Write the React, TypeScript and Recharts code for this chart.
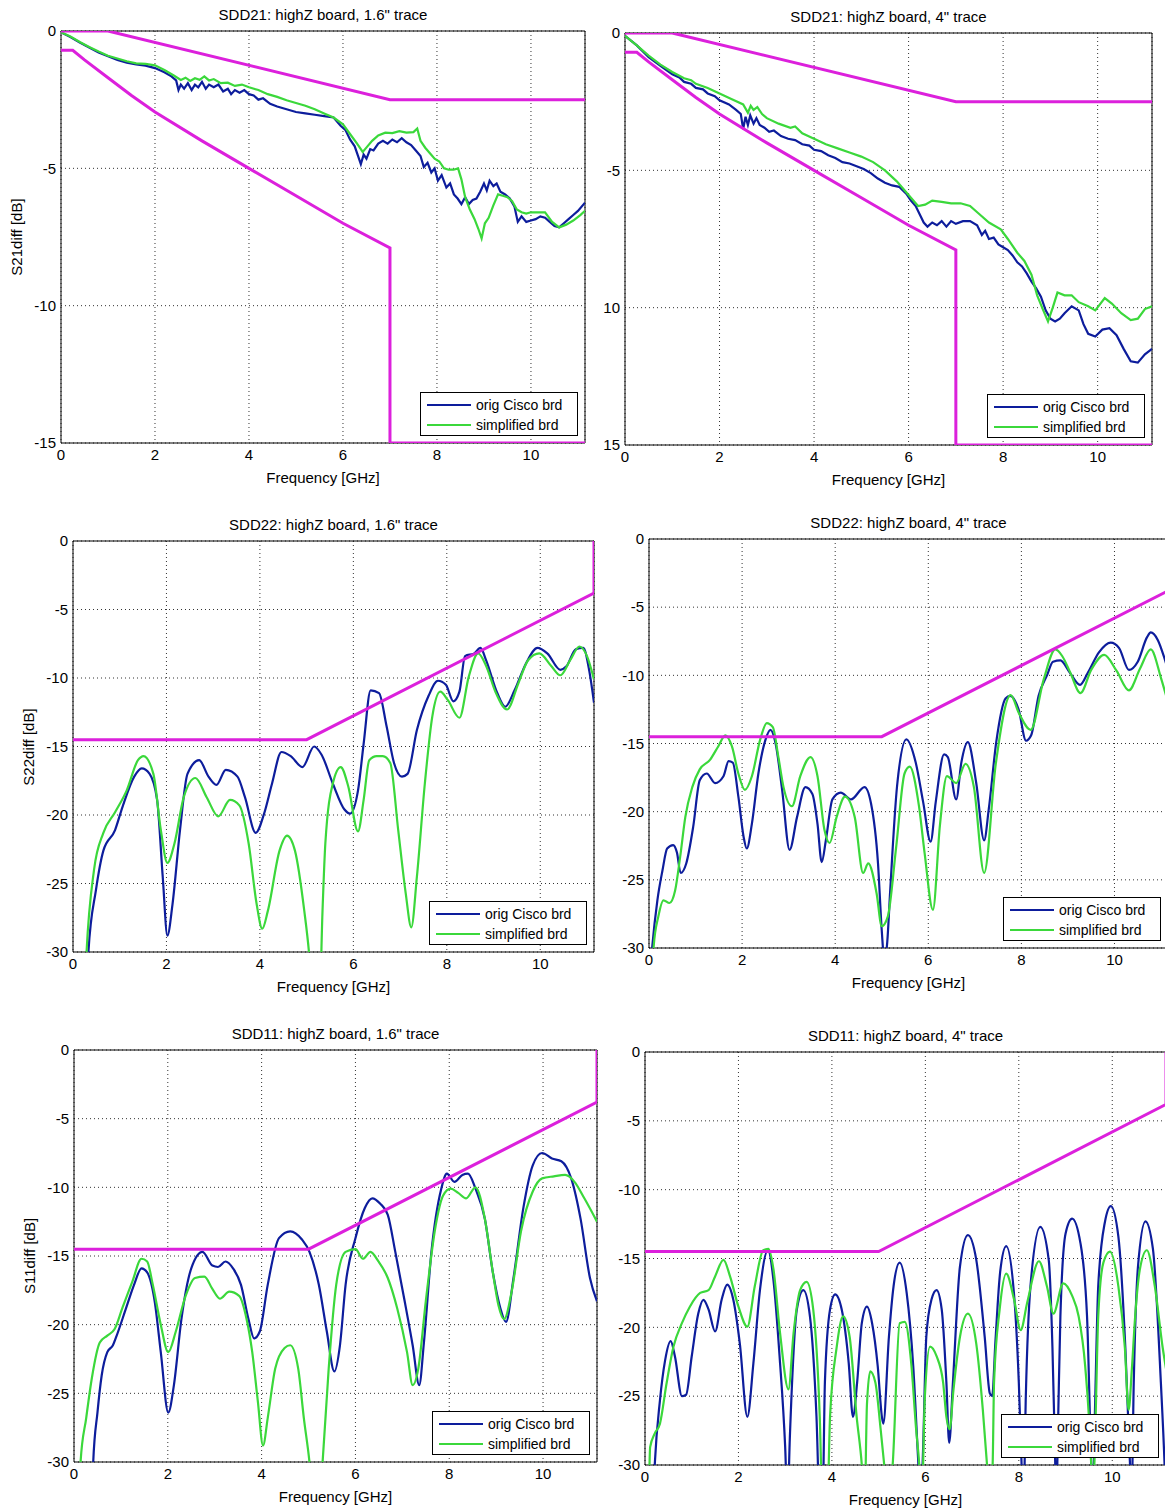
import React from "react";
import { LineChart, Line, XAxis, YAxis, CartesianGrid, ReferenceArea } from "recharts";

type Pt = [number, number];

const F_MAX = 11.15;
const freqTicks = [0, 2, 4, 6, 8, 10];
const s21Ticks = [0, -5, -10, -15];
const rlTicks = [0, -5, -10, -15, -20, -25, -30];
// the top-right panel was cropped on the left, so its two lowest labels lost the minus sign
const s21CroppedLabels: Record<number, string> = { 0: "0", [-5]: "-5", [-10]: "10", [-15]: "15" };

const legendNames = ["orig Cisco brd", "simplified brd"];

// limit lines
const s21Upper: Pt[] = [[0, 0], [1, 0], [7, -2.5], [11.15, -2.5]];
const s21Lower: Pt[] = [
  [0, -0.7], [0.25, -0.7], [0.5, -1.05], [1, -1.7], [1.5, -2.35], [2, -2.95], [3, -4.0],
  [4, -5.0], [5, -6.0], [6, -7.0], [7, -7.9], [7, -15], [11.15, -15],
];
const rlMask: Pt[] = [[0, -14.5], [5, -14.5], [11.15, -3.8], [11.15, 0]];

// SDD21, 1.6" trace
const s21ShortOrig: Pt[] = [
  [0, -0.05], [0.2, -0.22], [0.4, -0.42], [0.6, -0.6], [0.8, -0.78], [1.0, -0.92], [1.2, -1.05], [1.4, -1.15],
  [1.6, -1.22], [1.8, -1.26], [2.0, -1.35], [2.2, -1.5], [2.35, -1.65], [2.45, -1.8], [2.5, -2.15], [2.55, -1.95],
  [2.62, -2.1], [2.7, -1.9], [2.78, -2.15], [2.85, -1.95], [2.92, -2.05], [3.0, -1.85], [3.08, -2.1], [3.15, -1.95],
  [3.25, -2.05], [3.35, -1.95], [3.45, -2.2], [3.55, -2.1], [3.62, -2.3], [3.7, -2.15], [3.8, -2.25], [3.9, -2.15],
  [4.0, -2.3], [4.1, -2.35], [4.2, -2.5], [4.3, -2.45], [4.45, -2.65], [4.6, -2.75], [4.8, -2.85], [5.0, -2.95],
  [5.2, -3.0], [5.4, -3.05], [5.6, -3.1], [5.8, -3.15], [5.95, -3.45], [6.05, -3.6], [6.15, -3.95], [6.25, -4.2],
  [6.32, -4.55], [6.38, -4.85], [6.44, -4.5], [6.5, -4.65], [6.58, -4.3], [6.65, -4.35], [6.75, -4.1], [6.85, -4.0],
  [6.95, -4.1], [7.05, -3.95], [7.15, -4.05], [7.25, -3.9], [7.35, -4.05], [7.45, -4.15], [7.55, -4.35], [7.65, -4.55],
  [7.72, -4.95], [7.8, -4.8], [7.88, -5.15], [7.95, -5.0], [8.02, -5.45], [8.1, -5.25], [8.2, -5.7], [8.28, -5.55],
  [8.36, -5.95], [8.44, -6.1], [8.52, -6.3], [8.6, -6.05], [8.68, -6.3], [8.76, -6.15], [8.84, -6.1], [8.92, -5.85],
  [9.0, -5.55], [9.06, -5.8], [9.12, -5.45], [9.2, -5.65], [9.27, -5.55], [9.35, -5.85], [9.45, -5.95], [9.55, -6.1],
  [9.65, -6.4], [9.72, -6.95], [9.8, -6.75], [9.9, -6.95], [10.0, -6.9], [10.1, -6.85], [10.2, -6.75], [10.3, -6.8],
  [10.4, -6.95], [10.5, -7.1], [10.6, -7.15], [10.7, -7.0], [10.8, -6.85], [10.9, -6.7], [11.0, -6.55], [11.15, -6.25],
];
const s21ShortSimp: Pt[] = [
  [0, -0.05], [0.2, -0.2], [0.4, -0.4], [0.6, -0.58], [0.8, -0.75], [1.0, -0.9], [1.2, -1.0], [1.4, -1.1],
  [1.6, -1.18], [1.8, -1.2], [2.0, -1.25], [2.2, -1.42], [2.4, -1.62], [2.55, -1.78], [2.65, -1.7], [2.75, -1.82],
  [2.85, -1.72], [2.95, -1.78], [3.05, -1.65], [3.15, -1.8], [3.25, -1.75], [3.4, -1.9], [3.55, -1.88], [3.7, -2.0],
  [3.85, -1.95], [4.0, -2.05], [4.2, -2.15], [4.4, -2.3], [4.6, -2.4], [4.8, -2.52], [5.0, -2.62], [5.2, -2.72],
  [5.4, -2.85], [5.6, -3.0], [5.8, -3.15], [6.0, -3.4], [6.15, -3.75], [6.3, -4.1], [6.42, -4.4], [6.52, -4.2],
  [6.62, -4.0], [6.75, -3.8], [6.9, -3.7], [7.05, -3.72], [7.2, -3.65], [7.35, -3.7], [7.5, -3.68], [7.58, -3.55],
  [7.65, -4.0], [7.75, -4.25], [7.85, -4.45], [7.95, -4.65], [8.05, -4.75], [8.15, -5.0], [8.25, -5.05], [8.35, -5.05],
  [8.45, -5.0], [8.52, -5.4], [8.6, -6.05], [8.7, -6.5], [8.8, -6.85], [8.88, -7.2], [8.95, -7.55], [9.02, -7.0],
  [9.1, -6.8], [9.2, -6.35], [9.3, -5.95], [9.4, -6.0], [9.5, -6.05], [9.6, -6.2], [9.7, -6.5], [9.8, -6.6],
  [9.9, -6.65], [10.0, -6.6], [10.15, -6.6], [10.3, -6.6], [10.45, -6.95], [10.6, -7.15], [10.75, -7.05], [10.9, -6.9],
  [11.05, -6.7], [11.15, -6.55],
];

// SDD21, 4" trace
const s21LongOrig: Pt[] = [
  [0, -0.1], [0.25, -0.45], [0.5, -0.88], [0.75, -1.2], [1.0, -1.5], [1.15, -1.62], [1.25, -1.78], [1.4, -1.85],
  [1.5, -2.0], [1.65, -2.05], [1.75, -2.2], [1.9, -2.3], [2.0, -2.45], [2.2, -2.6], [2.35, -2.8], [2.45, -2.95],
  [2.5, -3.5], [2.55, -3.05], [2.6, -3.35], [2.65, -3.0], [2.72, -3.3], [2.78, -3.1], [2.85, -3.35], [2.95, -3.45],
  [3.05, -3.6], [3.15, -3.55], [3.3, -3.75], [3.45, -3.85], [3.6, -3.9], [3.75, -4.05], [3.9, -4.1], [4.0, -4.25],
  [4.15, -4.3], [4.3, -4.45], [4.45, -4.55], [4.6, -4.7], [4.75, -4.75], [4.9, -4.85], [5.05, -4.95], [5.2, -5.1],
  [5.35, -5.3], [5.5, -5.45], [5.65, -5.55], [5.8, -5.6], [5.95, -5.85], [6.05, -6.1], [6.15, -6.3], [6.25, -6.65],
  [6.32, -6.9], [6.4, -7.05], [6.5, -6.9], [6.6, -7.0], [6.7, -6.85], [6.8, -7.05], [6.9, -6.85], [7.0, -6.95],
  [7.15, -6.85], [7.3, -6.85], [7.45, -7.0], [7.55, -7.35], [7.62, -7.2], [7.7, -7.5], [7.8, -7.45], [7.9, -7.7],
  [8.0, -7.8], [8.1, -7.9], [8.2, -8.1], [8.3, -8.35], [8.4, -8.5], [8.5, -8.75], [8.6, -9.05], [8.7, -9.3],
  [8.8, -9.6], [8.9, -10.1], [9.0, -10.4], [9.1, -10.5], [9.2, -10.4], [9.3, -10.2], [9.45, -9.95], [9.6, -10.1],
  [9.7, -10.6], [9.8, -10.95], [9.95, -11.05], [10.1, -10.8], [10.25, -10.75], [10.4, -11.0], [10.55, -11.5], [10.7, -11.95],
  [10.85, -12.0], [11.0, -11.7], [11.15, -11.5],
];
const s21LongSimp: Pt[] = [
  [0, -0.1], [0.25, -0.45], [0.5, -0.82], [0.75, -1.15], [1.0, -1.42], [1.25, -1.65], [1.4, -1.72], [1.5, -1.85],
  [1.75, -2.0], [2.0, -2.2], [2.25, -2.4], [2.5, -2.6], [2.6, -2.9], [2.66, -2.65], [2.72, -2.8], [2.8, -2.7],
  [2.9, -2.95], [3.0, -3.1], [3.25, -3.3], [3.5, -3.45], [3.6, -3.4], [3.75, -3.65], [4.0, -3.85], [4.25, -4.05],
  [4.5, -4.2], [4.75, -4.35], [5.0, -4.5], [5.25, -4.7], [5.5, -5.0], [5.75, -5.4], [6.0, -5.9], [6.2, -6.3],
  [6.35, -6.25], [6.5, -6.1], [6.7, -6.15], [6.9, -6.2], [7.1, -6.2], [7.3, -6.3], [7.5, -6.6], [7.7, -6.9],
  [7.95, -7.15], [8.1, -7.5], [8.3, -8.0], [8.45, -8.3], [8.6, -8.8], [8.72, -9.55], [8.85, -10.1], [8.95, -10.5],
  [9.05, -10.0], [9.15, -9.45], [9.3, -9.55], [9.45, -9.55], [9.6, -9.8], [9.8, -9.95], [9.95, -10.1], [10.15, -9.65],
  [10.3, -9.85], [10.5, -10.2], [10.7, -10.45], [10.85, -10.4], [11.0, -10.05], [11.15, -9.95],
];

// SDD22, 1.6" trace
const s22ShortOrig: Pt[] = [
  [0.3, -33], [0.33, -30], [0.49, -25.5], [0.65, -22.6], [0.9, -21.1], [1.06, -19.4], [1.31, -17.2], [1.47, -16.6],
  [1.64, -17.0], [1.8, -18.9], [1.92, -24.5], [2.02, -28.8], [2.13, -26.5], [2.29, -21.1], [2.45, -17.0], [2.7, -16.0],
  [2.9, -17.2], [3.07, -17.8], [3.27, -16.7], [3.52, -17.2], [3.68, -18.7], [3.91, -21.3], [4.09, -19.9], [4.26, -17.7],
  [4.46, -15.4], [4.66, -15.7], [4.91, -16.5], [5.16, -15.0], [5.32, -15.6], [5.56, -17.7], [5.81, -19.6], [5.93, -19.9],
  [6.1, -18.2], [6.22, -14.8], [6.37, -10.9], [6.55, -11.1], [6.71, -13.5], [6.87, -16.2], [7.04, -17.2], [7.16, -17.0],
  [7.36, -13.8], [7.61, -11.3], [7.81, -10.2], [7.98, -10.5], [8.14, -11.7], [8.27, -11.0], [8.39, -8.4], [8.59, -8.2],
  [8.72, -7.8], [8.84, -8.7], [9.08, -11.1], [9.25, -12.1], [9.45, -10.9], [9.7, -8.9], [9.94, -7.8], [10.15, -8.2],
  [10.43, -9.4], [10.56, -9.15], [10.76, -7.9], [10.92, -7.8], [11.05, -9.5], [11.15, -11.8],
];
const s22ShortSimp: Pt[] = [
  [0.25, -33], [0.29, -30], [0.45, -24], [0.65, -21.3], [0.9, -19.8], [1.15, -18.2], [1.39, -16.0], [1.51, -15.7],
  [1.72, -17.0], [1.88, -21.1], [2.02, -23.5], [2.17, -22.1], [2.37, -18.7], [2.62, -17.3], [2.86, -18.7], [3.11, -20.1],
  [3.36, -18.9], [3.56, -19.3], [3.76, -22.1], [3.93, -26.5], [4.05, -28.3], [4.17, -27.0], [4.42, -22.6], [4.58, -21.5],
  [4.75, -22.6], [4.95, -27.0], [5.05, -30], [5.12, -33], [5.28, -33], [5.34, -27], [5.4, -22.1], [5.56, -17.7],
  [5.73, -16.5], [5.89, -17.9], [6.1, -21.2], [6.22, -18.9], [6.34, -16.0], [6.5, -15.7], [6.63, -15.7], [6.79, -16.2],
  [6.96, -21.1], [7.12, -25.7], [7.24, -28.2], [7.36, -24.5], [7.53, -17.7], [7.69, -12.8], [7.86, -11.0], [8.02, -11.6],
  [8.27, -12.9], [8.47, -9.9], [8.67, -8.2], [8.84, -9.1], [9.04, -11.0], [9.29, -12.3], [9.53, -10.4], [9.74, -8.7],
  [9.98, -8.2], [10.23, -9.1], [10.43, -9.8], [10.64, -8.7], [10.84, -7.7], [11.0, -8.4], [11.15, -10.1],
];

// SDD22, 4" trace
const s22LongOrig: Pt[] = [
  [0.0, -33], [0.07, -29.9], [0.18, -26.5], [0.29, -24.3], [0.39, -22.7], [0.52, -22.45], [0.6, -23.0], [0.68, -24.5],
  [0.8, -23.8], [0.95, -21.1], [1.09, -17.7], [1.24, -17.2], [1.42, -17.9], [1.6, -17.4], [1.71, -16.3], [1.8, -16.4],
  [1.92, -18.9], [2.03, -21.8], [2.1, -22.7], [2.21, -20.9], [2.35, -17.2], [2.5, -14.75], [2.61, -14.0], [2.72, -15.0],
  [2.86, -18.4], [3.02, -22.8], [3.18, -20.4], [3.36, -18.2], [3.51, -18.7], [3.62, -20.9], [3.71, -23.7], [3.8, -22.1],
  [3.94, -19.1], [4.12, -18.6], [4.34, -19.1], [4.63, -18.2], [4.77, -19.4], [4.92, -23.8], [5.0, -28.7], [5.06, -31],
  [5.12, -29.5], [5.18, -25.9], [5.33, -18.1], [5.53, -14.7], [5.73, -16.4], [5.89, -19.3], [6.05, -22.2], [6.16, -19.3],
  [6.34, -15.8], [6.42, -16.0], [6.6, -19.1], [6.71, -16.4], [6.85, -14.9], [7.03, -17.9], [7.2, -22.1], [7.3, -19.8],
  [7.46, -14.9], [7.66, -11.7], [7.76, -11.5], [7.94, -12.5], [8.1, -14.8], [8.21, -14.4], [8.37, -11.5], [8.55, -10.0],
  [8.68, -9.0], [8.84, -8.9], [9.04, -9.8], [9.26, -10.7], [9.43, -9.8], [9.67, -8.3], [9.92, -7.6], [10.1, -8.0],
  [10.31, -9.6], [10.5, -9.0], [10.7, -7.2], [10.78, -6.85], [10.93, -7.4], [11.07, -8.7], [11.15, -9.6],
];
const s22LongSimp: Pt[] = [
  [0.05, -33], [0.1, -29.9], [0.2, -27.7], [0.31, -26.5], [0.44, -26.7], [0.56, -25.8], [0.67, -23.3], [0.78, -20.4],
  [0.93, -18.2], [1.09, -16.9], [1.31, -16.2], [1.49, -15.2], [1.64, -14.4], [1.78, -15.2], [1.92, -17.2], [2.06, -18.4],
  [2.21, -17.4], [2.39, -14.7], [2.53, -13.5], [2.66, -13.8], [2.78, -16.0], [2.89, -18.2], [3.07, -19.6], [3.25, -17.4],
  [3.47, -16.0], [3.62, -17.4], [3.77, -21.35], [3.88, -22.3], [4.03, -20.4], [4.21, -18.9], [4.42, -20.4], [4.6, -24.5],
  [4.71, -23.8], [4.89, -26.0], [5.0, -28.4], [5.13, -27.7], [5.31, -22.6], [5.49, -17.2], [5.6, -16.7], [5.8, -19.6],
  [5.92, -23.0], [6.1, -27.2], [6.25, -21.0], [6.4, -17.4], [6.6, -17.9], [6.8, -16.5], [6.98, -18.2], [7.2, -24.5],
  [7.45, -16.5], [7.77, -11.45], [7.95, -12.8], [8.2, -14.0], [8.48, -10.3], [8.73, -8.1], [8.88, -8.6], [9.05, -9.8],
  [9.27, -11.3], [9.5, -9.6], [9.78, -8.5], [10.05, -9.7], [10.31, -11.1], [10.55, -9.5], [10.78, -8.1], [11.0, -10.2],
  [11.15, -12.0],
];

// SDD11, 1.6" trace
const s11ShortOrig: Pt[] = [
  [0.38, -33], [0.41, -30], [0.5, -26.4], [0.59, -23.7], [0.71, -22.0], [0.83, -21.5], [0.91, -20.8], [1.11, -18.8],
  [1.28, -17.1], [1.44, -15.9], [1.56, -16.2], [1.72, -18.3], [1.85, -22.0], [2.01, -26.4], [2.13, -24.4], [2.29, -19.6],
  [2.5, -15.9], [2.74, -14.7], [2.95, -15.7], [3.07, -15.8], [3.23, -15.4], [3.39, -15.9], [3.56, -17.1], [3.72, -19.6],
  [3.84, -21.0], [3.96, -20.5], [4.13, -17.1], [4.37, -13.7], [4.61, -13.2], [4.86, -13.8], [5.02, -14.7], [5.22, -17.1],
  [5.39, -20.5], [5.55, -23.4], [5.67, -21.5], [5.79, -17.1], [6.0, -13.7], [6.2, -11.5], [6.36, -10.8], [6.53, -11.2],
  [6.69, -12.0], [6.85, -14.7], [7.05, -18.3], [7.22, -21.5], [7.36, -24.4], [7.46, -21.3], [7.62, -14.7], [7.83, -10.1],
  [7.95, -9.0], [8.11, -9.6], [8.28, -9.1], [8.4, -9.0], [8.56, -10.1], [8.76, -12.3], [8.93, -16.2], [9.09, -18.8],
  [9.21, -19.8], [9.37, -16.6], [9.58, -11.5], [9.78, -8.4], [9.98, -7.5], [10.19, -7.9], [10.39, -8.1], [10.6, -9.35],
  [10.8, -12.3], [11.0, -16.6], [11.15, -18.3],
];
const s11ShortSimp: Pt[] = [
  [0.1, -33], [0.14, -30], [0.26, -26.8], [0.38, -23.9], [0.55, -21.3], [0.71, -20.8], [0.87, -20.3], [1.03, -18.8],
  [1.24, -16.9], [1.44, -15.2], [1.56, -15.4], [1.68, -17.1], [1.85, -20.0], [2.01, -22.0], [2.17, -20.5], [2.38, -17.9],
  [2.58, -16.6], [2.78, -16.5], [2.95, -17.4], [3.11, -18.1], [3.31, -17.6], [3.52, -17.9], [3.68, -19.6], [3.8, -22.0],
  [3.92, -25.6], [4.03, -28.8], [4.13, -26.8], [4.29, -23.2], [4.49, -21.7], [4.61, -21.5], [4.78, -23.2], [4.9, -26.8],
  [5.02, -30], [5.1, -33], [5.25, -33], [5.3, -30], [5.43, -23.2], [5.59, -17.1], [5.79, -14.7], [6.0, -14.5],
  [6.16, -15.2], [6.32, -14.7], [6.49, -15.4], [6.69, -16.6], [6.89, -18.8], [7.1, -22.0], [7.22, -24.4], [7.34, -23.2],
  [7.5, -18.3], [7.71, -12.8], [7.87, -10.6], [8.03, -10.1], [8.19, -10.4], [8.36, -10.8], [8.56, -10.0], [8.76, -12.3],
  [8.93, -16.2], [9.05, -18.6], [9.17, -19.6], [9.33, -17.6], [9.53, -13.2], [9.78, -10.3], [9.98, -9.35], [10.23, -9.2],
  [10.47, -9.1], [10.67, -9.6], [10.88, -10.8], [11.15, -12.5],
];

// SDD11, 4" trace
const s11LongOrig: Pt[] = [
  [0.17, -33], [0.21, -29.9], [0.32, -25.3], [0.43, -22.4], [0.55, -21.0], [0.64, -22.1], [0.79, -25.0], [0.88, -24.9],
  [1.0, -22.1], [1.14, -19.0], [1.25, -18.0], [1.36, -18.7], [1.5, -20.3], [1.64, -18.0], [1.76, -16.9], [1.89, -18.0],
  [2.03, -21.2], [2.19, -26.5], [2.32, -22.6], [2.46, -17.3], [2.63, -14.4], [2.75, -16.6], [2.88, -22.1], [3.0, -28.7],
  [3.05, -33], [3.1, -28], [3.25, -18.7], [3.39, -17.3], [3.53, -19.2], [3.67, -26.5], [3.74, -33], [3.8, -33],
  [3.85, -24.0], [3.96, -18.7], [4.07, -17.6], [4.21, -18.7], [4.36, -22.6], [4.45, -26.5], [4.54, -24.0], [4.64, -19.7],
  [4.75, -18.5], [4.86, -19.7], [4.98, -22.8], [5.07, -26.5], [5.1, -27], [5.22, -20.7], [5.32, -17.0], [5.45, -15.3],
  [5.6, -17.5], [5.74, -22.8], [5.85, -29.9], [5.9, -33], [5.95, -29], [6.02, -20.7], [6.13, -18.0], [6.24, -17.3],
  [6.35, -18.7], [6.45, -24.0], [6.51, -28.4], [6.59, -24.0], [6.74, -15.6], [6.91, -13.3], [7.09, -15.1], [7.27, -20.7],
  [7.38, -24.8], [7.43, -25.0], [7.5, -21], [7.6, -16], [7.73, -14.1], [7.9, -17.7], [8.0, -24.0], [8.06, -30],
  [8.1, -33], [8.15, -25], [8.25, -17.0], [8.46, -12.7], [8.64, -15.1], [8.72, -21.5], [8.78, -30], [8.8, -33],
  [8.84, -27], [8.89, -19.2], [9.0, -13.2], [9.14, -12.1], [9.32, -13.9], [9.46, -19.2], [9.55, -30], [9.58, -33],
  [9.63, -26], [9.7, -17.0], [9.84, -12.4], [9.97, -11.2], [10.13, -13.4], [10.28, -21.5], [10.38, -30], [10.41, -33],
  [10.46, -24], [10.55, -15.6], [10.71, -12.3], [10.87, -14.3], [11.04, -24.0], [11.12, -30], [11.15, -33],
];
const s11LongSimp: Pt[] = [
  [0.08, -33], [0.11, -28.7], [0.21, -27.7], [0.32, -27.0], [0.46, -24.1], [0.61, -21.4], [0.79, -19.7], [0.96, -18.5],
  [1.18, -17.5], [1.36, -17.3], [1.5, -16.3], [1.68, -15.1], [1.82, -16.3], [2.0, -18.5], [2.19, -19.95], [2.35, -17.0],
  [2.53, -14.4], [2.64, -14.3], [2.75, -15.8], [2.89, -20.4], [3.07, -24.5], [3.18, -20.4], [3.32, -17.3], [3.46, -16.7],
  [3.6, -18.7], [3.74, -26.5], [3.8, -33], [3.9, -33], [3.96, -26.5], [4.1, -21.5], [4.24, -19.2], [4.38, -20.7],
  [4.53, -26.5], [4.64, -30], [4.7, -33], [4.75, -25.6], [4.82, -23.2], [4.93, -24.0], [5.04, -27.3], [5.12, -30],
  [5.2, -33], [5.3, -30], [5.45, -19.7], [5.56, -19.6], [5.7, -22.7], [5.8, -27.3], [5.87, -30], [5.92, -33],
  [5.99, -25], [6.1, -21.4], [6.24, -22.1], [6.38, -24.0], [6.45, -26.5], [6.52, -27.4], [6.6, -24.6], [6.74, -20.7],
  [6.91, -19.0], [7.09, -21.2], [7.23, -26.0], [7.32, -30], [7.38, -33], [7.44, -30], [7.47, -24.0], [7.59, -18.7],
  [7.73, -16.1], [7.9, -18.0], [8.04, -20.2], [8.18, -18.2], [8.43, -15.2], [8.6, -17.0], [8.74, -19.0], [8.95, -16.8],
  [9.14, -17.7], [9.28, -19.2], [9.42, -22.8], [9.55, -30], [9.58, -33], [9.64, -27], [9.7, -19.2], [9.81, -15.3],
  [9.95, -14.5], [10.13, -17.0], [10.27, -21.5], [10.35, -26.0], [10.42, -23], [10.49, -19.2], [10.59, -15.8], [10.74, -14.4],
  [10.91, -17.0], [11.08, -21.5], [11.15, -23],
];

const BLUE = "#0d1d9c";
const GREEN = "#3bd83b";
const MAGENTA = "#dc20dc";
const FONT = "'Liberation Sans', Arial, Helvetica, sans-serif";
const FS = 15;

const YW = 60;
const MT = 10;
const MR = 10;
const XH = 30;

const rows = (pts: Pt[]) => pts.map(([f, v]) => ({ f, v }));

type Box = { x: number; y: number; w: number; h: number };

const Txt = (props: any) => (
  <div
    style={{
      position: "absolute",
      left: props.x,
      top: props.y,
      transform: `translate(-50%, -50%)${props.rotate ? " rotate(-90deg)" : ""}`,
      whiteSpace: "nowrap",
      fontFamily: FONT,
      fontSize: FS,
      color: "#000",
      lineHeight: 1,
    }}
  >
    {props.children}
  </div>
);

const LegendBox = ({ left, top }: { left: number; top: number }) => (
  <div
    style={{
      position: "absolute",
      left,
      top,
      width: 156,
      height: 42,
      border: "1px solid #000",
      background: "#fff",
      fontFamily: FONT,
      fontSize: 14,
    }}
  >
    {[BLUE, GREEN].map((c, i) => (
      <div key={i} style={{ position: "absolute", left: 6, top: 3 + i * 20, height: 18, display: "flex", alignItems: "center" }}>
        <div style={{ width: 44, height: 2, background: c, marginRight: 5 }} />
        <span>{legendNames[i]}</span>
      </div>
    ))}
  </div>
);

const Panel = (props: {
  clip: Box;
  plot: Box;
  title: string;
  yLabel?: string;
  yMin: number;
  yTicks: number[];
  yFmt?: (v: number) => string;
  curve: "linear" | "monotoneX";
  masks: Pt[][];
  orig: Pt[];
  simp: Pt[];
}) => {
  const { clip, plot } = props;
  const px = plot.x - clip.x;
  const py = plot.y - clip.y;
  return (
    <div style={{ position: "absolute", left: clip.x, top: clip.y, width: clip.w, height: clip.h, overflow: "hidden" }}>
      <div style={{ position: "absolute", left: px - YW, top: py - MT }}>
        <LineChart
          width={YW + plot.w + MR}
          height={MT + plot.h + XH}
          margin={{ top: MT, right: MR, bottom: 0, left: 0 }}
        >
          <CartesianGrid stroke="#333" strokeDasharray="1 3" />
          <XAxis
            type="number"
            dataKey="f"
            domain={[0, F_MAX]}
            ticks={freqTicks}
            allowDataOverflow
            height={XH}
            axisLine={false}
            tickLine={false}
            tickSize={4}
            tickMargin={2}
            tick={{ fill: "#000", fontSize: FS, fontFamily: FONT }}
          />
          <YAxis
            type="number"
            domain={[props.yMin, 0]}
            ticks={props.yTicks}
            tickFormatter={props.yFmt}
            allowDataOverflow
            width={YW}
            axisLine={false}
            tickLine={false}
            tickSize={3}
            tickMargin={2}
            tick={{ fill: "#000", fontSize: FS, fontFamily: FONT }}
          />
          <ReferenceArea x1={0} x2={F_MAX} y1={props.yMin} y2={0} fill="none" stroke="#000" strokeWidth={1} ifOverflow="visible" />
          <Line data={rows(props.orig)} dataKey="v" type={props.curve} stroke={BLUE} strokeWidth={2.2} dot={false} isAnimationActive={false} />
          <Line data={rows(props.simp)} dataKey="v" type={props.curve} stroke={GREEN} strokeWidth={2.2} dot={false} isAnimationActive={false} />
          {props.masks.map((m, i) => (
            <Line key={i} data={rows(m)} dataKey="v" type="linear" stroke={MAGENTA} strokeWidth={3} dot={false} isAnimationActive={false} />
          ))}
        </LineChart>
      </div>
      <Txt x={px + plot.w / 2} y={py - 17}>{props.title}</Txt>
      <Txt x={px + plot.w / 2} y={py + plot.h + 34}>Frequency [GHz]</Txt>
      {props.yLabel && (
        <Txt x={px - 45} y={py + plot.h / 2} rotate>
          {props.yLabel}
        </Txt>
      )}
      <LegendBox left={px + plot.w - 7 - 158} top={py + plot.h - 7 - 44} />
    </div>
  );
};

export default function App() {
  return (
    <div style={{ position: "absolute", left: 0, top: 0, width: 1165, height: 1510, background: "#fff", overflow: "hidden" }}>
      <Panel
        clip={{ x: 0, y: 0, w: 600, h: 495 }}
        plot={{ x: 61, y: 31, w: 524, h: 412 }}
        title={'SDD21: highZ board, 1.6" trace'}
        yLabel="S21diff [dB]"
        yMin={-15}
        yTicks={s21Ticks}
        curve="linear"
        masks={[s21Upper, s21Lower]}
        orig={s21ShortOrig}
        simp={s21ShortSimp}
      />
      <Panel
        clip={{ x: 602, y: 0, w: 563, h: 495 }}
        plot={{ x: 625, y: 33, w: 527, h: 412 }}
        title={'SDD21: highZ board, 4" trace'}
        yMin={-15}
        yTicks={s21Ticks}
        yFmt={(v: number) => s21CroppedLabels[v] ?? String(v)}
        curve="linear"
        masks={[s21Upper, s21Lower]}
        orig={s21LongOrig}
        simp={s21LongSimp}
      />
      <Panel
        clip={{ x: 0, y: 495, w: 597, h: 505 }}
        plot={{ x: 73, y: 541, w: 521, h: 411 }}
        title={'SDD22: highZ board, 1.6" trace'}
        yLabel="S22diff [dB]"
        yMin={-30}
        yTicks={rlTicks}
        curve="monotoneX"
        masks={[rlMask]}
        orig={s22ShortOrig}
        simp={s22ShortSimp}
      />
      <Panel
        clip={{ x: 598, y: 495, w: 567, h: 505 }}
        plot={{ x: 649, y: 539, w: 519, h: 409 }}
        title={'SDD22: highZ board, 4" trace'}
        yMin={-30}
        yTicks={rlTicks}
        curve="monotoneX"
        masks={[rlMask]}
        orig={s22LongOrig}
        simp={s22LongSimp}
      />
      <Panel
        clip={{ x: 0, y: 1000, w: 599, h: 510 }}
        plot={{ x: 74, y: 1050, w: 523, h: 412 }}
        title={'SDD11: highZ board, 1.6" trace'}
        yLabel="S11diff [dB]"
        yMin={-30}
        yTicks={rlTicks}
        curve="monotoneX"
        masks={[rlMask]}
        orig={s11ShortOrig}
        simp={s11ShortSimp}
      />
      <Panel
        clip={{ x: 599, y: 1000, w: 566, h: 510 }}
        plot={{ x: 645, y: 1052, w: 521, h: 413 }}
        title={'SDD11: highZ board, 4" trace'}
        yMin={-30}
        yTicks={rlTicks}
        curve="monotoneX"
        masks={[rlMask]}
        orig={s11LongOrig}
        simp={s11LongSimp}
      />
    </div>
  );
}
